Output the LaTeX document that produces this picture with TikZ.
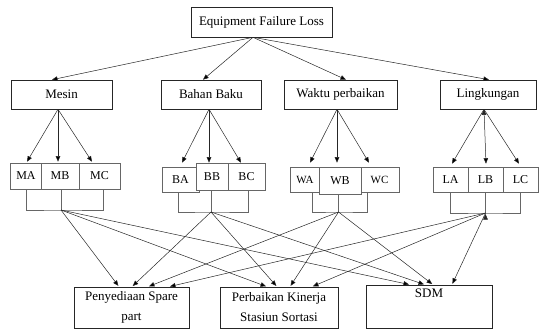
\documentclass[tikz,border=0pt]{standalone}
\usepackage{fontspec}
\setmainfont{Liberation Serif}
\usetikzlibrary{arrows.meta}

\tikzset{
  box/.style={draw=black!85, line width=0.6pt, fill=white, inner sep=0pt, align=center,
    font=\fontsize{13}{20}\selectfont},
  sub/.style={box, draw=black!60, font=\fontsize{12}{14}\selectfont},
  arrow/.style={-{Triangle[length=5.5pt,width=4.5pt]}, line width=0.5pt, draw=black!85},
  bracket/.style={draw=black!60, line width=0.6pt},
}

\begin{document}
\begin{tikzpicture}[x=1pt, y=-1pt]
    \useasboundingbox (0,0) rectangle (539,329);

    \node[box, minimum width=141pt, minimum height=30pt] at (261.5, 22)(top){Equipment Failure Loss};

    \node[box, minimum width=101pt, minimum height=29pt] at (61.5, 94.5)(mesin){Mesin};
    \node[box, minimum width=100pt, minimum height=29pt] at (211, 94.5)(bahan){Bahan Baku};
    \node[box, minimum width=113pt, minimum height=29pt] at (340.5, 94.5)(waktu){Waktu perbaikan};
    \node[box, minimum width=96pt, minimum height=29pt] at (488, 94.5)(ling){Lingkungan};

    \node[sub, minimum width=31pt, minimum height=26pt] at (26, 176)(ma){MA};
    \node[sub, minimum width=38pt, minimum height=26pt] at (60, 176)(mb){MB};
    \node[sub, minimum width=41pt, minimum height=26pt] at (99.5, 176)(mc){MC};

    \node[sub, minimum width=37pt, minimum height=25pt] at (180.5, 179.5)(ba){BA};
    \node[sub, minimum width=37pt, minimum height=27pt] at (246.5, 176.5)(bc){BC};
    \node[sub, minimum width=32pt, minimum height=27pt] at (212, 176.5)(bb){BB};

    \node[sub, minimum width=30pt, minimum height=25pt, font=\fontsize{11}{13}\selectfont] at (305, 179.5)(wa){WA};
    \node[sub, minimum width=39pt, minimum height=25pt, font=\fontsize{11}{13}\selectfont] at (379.5, 179.5)(wc){WC};
    \node[sub, minimum width=42pt, minimum height=27pt] at (340, 180.5)(wb){WB};

    \node[sub, minimum width=35pt, minimum height=25pt] at (450.5, 179.5)(la){LA};
    \node[sub, minimum width=35pt, minimum height=25pt] at (485.5, 179.5)(lb){LB};
    \node[sub, minimum width=35pt, minimum height=25pt] at (520.5, 179.5)(lc){LC};

    \node[box, minimum width=115pt, minimum height=41pt] at (131.5, 307.5)(pen){Penyediaan Spare\\part};
    \node[box, minimum width=118pt, minimum height=41pt] at (279, 307.5)(per){Perbaikan Kinerja\\Stasiun Sortasi};
    \node[box, minimum width=126pt, minimum height=43pt] at (429, 306.5)(sdm){SDM\\\strut};

    \coordinate (mj) at (61, 210);
    \coordinate (bj) at (211, 212);
    \coordinate (wj) at (338.5, 212);
    \coordinate (lj) at (485.5, 213);

    \draw[bracket] (ma.south) |- (mj) -| ([xshift=3.5pt]mc.south);
    \draw[bracket] (mj |- mb.south) -- (mj);
    \draw[bracket] ([xshift=-2.5pt]ba.south) |- (bj) -| ([xshift=1.5pt]bc.south);
    \draw[bracket] (bj |- bb.south) -- (bj);
    \draw[bracket] ([xshift=7pt]wa.south) |- (wj) -| ([xshift=-12.5pt]wc.south);
    \draw[bracket] (wj |- wb.south) -- (wj);
    \draw[bracket] (la.south) |- (lj) -| (lc.south);
    \draw[bracket] (lj |- lb.south) -- (lj);

    \path[arrow]
    ([xshift=-8.5pt]top.south) edge ([xshift=-9.5pt]mesin.north)
    ([xshift=-8.5pt]top.south) edge ([xshift=-8pt]bahan.north)
    ([xshift=-8.5pt]top.south) edge ([xshift=5.5pt]waktu.north)
    ([xshift=-8.5pt]top.south) edge ([xshift=1pt]ling.north)
    ([xshift=-3.5pt]mesin.south) edge ([xshift=1pt,yshift=1pt]ma.north)
    ([xshift=-3.5pt]mesin.south) edge ([xshift=-2pt,yshift=1pt]mb.north)
    ([xshift=-3.5pt]mesin.south) edge ([xshift=-7.5pt,yshift=1pt]mc.north)
    ([xshift=-2pt]bahan.south) edge ([xshift=1.5pt,yshift=4pt]ba.north)
    ([xshift=-2pt]bahan.south) edge ([xshift=-3pt]bb.north)
    ([xshift=-2pt]bahan.south) edge ([xshift=-5.5pt]bc.north)
    ([xshift=-3.5pt]waktu.south) edge ([xshift=5pt,yshift=4pt]wa.north)
    ([xshift=-3.5pt]waktu.south) edge ([xshift=-3pt,yshift=4pt]wb.north)
    ([xshift=-3.5pt]waktu.south) edge ([xshift=-10.5pt,yshift=4pt]wc.north)
    ([xshift=-4pt]ling.south) edge ([xshift=1.5pt,yshift=3pt]la.north)
    ([xshift=-4pt]ling.south) edge ([xshift=0.5pt,yshift=3pt]lb.north)
    ([xshift=-4pt]ling.south) edge ([xshift=-1.5pt,yshift=3pt]lc.north)
    ;

    \path[arrow, shorten >=1pt]
    (mj) edge ([xshift=-12.5pt]pen.north)
    (mj) edge ([xshift=-12pt]per.north)
    (mj) edge ([xshift=-19pt]sdm.north)
    (bj) edge ([xshift=0.5pt]pen.north)
    (bj) edge ([xshift=-2pt]per.north)
    (bj) edge ([xshift=-4pt]sdm.north)
    (wj) edge ([xshift=16.5pt]pen.north)
    (wj) edge ([xshift=11pt]per.north)
    (wj) edge ([xshift=4pt]sdm.north)
    (lj) edge ([xshift=37.5pt]pen.north)
    (lj) edge ([xshift=33pt]per.north)
    (lj) edge ([xshift=23pt]sdm.north)
    ;
\end{tikzpicture}
\end{document}
